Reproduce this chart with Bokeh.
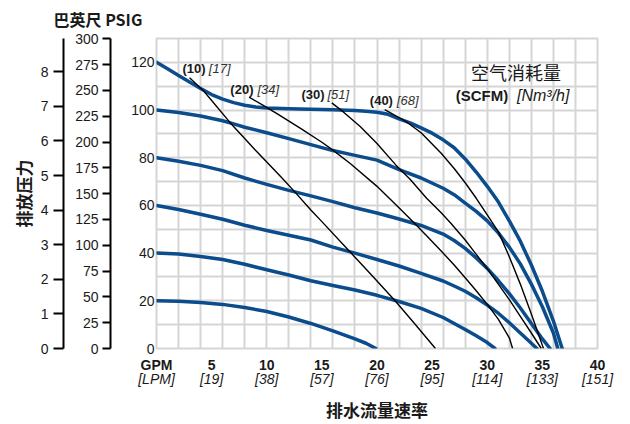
from bokeh.plotting import figure
from bokeh.models import Range1d, LinearAxis, FixedTicker
from bokeh.core.properties import value
from bokeh.embed import file_html
from bokeh.resources import INLINE

# ---------------- data ----------------
gpm_ticks = [0, 5, 10, 15, 20, 25, 30, 35, 40]
gpm_labels = ["GPM", "5", "10", "15", "20", "25", "30", "35", "40"]
lpm_labels = ["[LPM]", "[19]", "[38]", "[57]", "[76]", "[95]", "[114]", "[133]", "[151]"]
psi_ticks = [0, 20, 40, 60, 80, 100, 120]
ft_ticks = [0, 25, 50, 75, 100, 125, 150, 175, 200, 225, 250, 275, 300]
bar_ticks = [0, 1, 2, 3, 4, 5, 6, 7, 8]

# discharge-pressure curves (GPM, PSIG) for each air inlet pressure
p120_x = [0, 1, 2, 3, 4, 5, 6, 7, 8, 9, 10, 12, 14, 16, 18, 19, 20, 21, 22, 23, 24, 25, 26, 27, 28, 29, 30, 31, 32, 33, 34, 35, 36, 36.8]
p120_y = [120, 117.3, 114.5, 111.8, 109, 106.5, 104.6, 103.1, 102, 101.3, 100.9, 100.5, 100.3, 100.1, 99.8, 99.5, 99.1, 98.2, 96.3, 94.6, 92.5, 90.3, 87.5, 84.2, 79.5, 74, 68, 61.5, 53.5, 45, 35, 24, 11.5, 0]
p100_x = [0, 2, 4, 6, 7, 8, 10, 12, 14, 16, 18, 20, 22, 24, 26, 27, 28, 29, 30, 31, 32, 33, 34, 35, 36, 36.4]
p100_y = [100, 99, 97.5, 95.5, 94.2, 92.8, 90.5, 88, 85.5, 83, 81, 79, 75, 71.5, 67.2, 64.5, 61, 57.5, 53.5, 48.5, 42.5, 35.5, 27, 17.5, 6.5, 0]
p80_x = [0, 2, 4, 6, 8, 10, 12, 14, 16, 18, 20, 22, 24, 26, 27, 28, 29, 30, 31, 32, 33, 34, 35, 35.7]
p80_y = [80, 78.5, 76.8, 74.6, 71.5, 68.8, 66.3, 64, 61.6, 59, 56.8, 54.3, 51.6, 48, 45.3, 42, 38, 33.6, 28.5, 23, 17, 10.5, 4, 0]
p60_x = [0, 2, 4, 6, 8, 10, 12, 14, 16, 18, 20, 22, 24, 26, 27, 28, 29, 30, 31, 32, 33, 34, 34.5]
p60_y = [60, 58.3, 56.3, 54.2, 51.7, 49.5, 47.5, 45.5, 42.5, 40, 37.3, 34.6, 31.5, 28.3, 26.2, 24, 21.3, 18.2, 14.8, 10.8, 6.5, 2.2, 0]
p40_x = [0, 2, 4, 6, 8, 10, 12, 14, 16, 18, 20, 22, 24, 26, 27, 28, 29, 30, 30.7]
p40_y = [40, 39.6, 38.6, 37.3, 35.3, 33, 30.8, 28.4, 26.4, 24.5, 22.3, 19.7, 16.8, 13, 10.5, 8, 5.3, 2.5, 0]
p20_x = [0, 2, 4, 6, 8, 10, 12, 14, 16, 18, 19, 19.9]
p20_y = [20, 19.8, 19.3, 18.5, 17.2, 15.5, 13.2, 10.5, 7.4, 4, 2.2, 0]

# air-consumption curves (GPM, PSIG)
a10_x = [3.0, 4.3, 6.7, 9, 11.3, 12.5, 14, 15, 17.5, 19.5, 21.6, 23.4, 25.3]
a10_y = [113.5, 107.9, 94.6, 83, 71.9, 65.9, 58.1, 53.2, 40.8, 30.8, 20.2, 10.5, 0]
a20_x = [8.4, 9.8, 11, 13.1, 15, 16, 17.6, 20, 22.2, 23.4, 24.5, 25.8, 27, 28, 29, 30, 31, 32, 32.3]
a20_y = [105.4, 101.6, 98.3, 92.2, 86.5, 83.2, 77.5, 68, 58.1, 52.5, 47.3, 41, 35, 29.7, 24.2, 18.5, 12.3, 4.5, 0]
a30_x = [15.9, 17, 18.5, 20, 21.7, 23, 24.5, 25.8, 26.7, 28, 29, 30, 31, 32, 33, 34, 34.9]
a30_y = [103, 99, 93, 86, 77, 71, 63, 57, 52.5, 45.5, 39.5, 33.5, 27, 20.5, 13.5, 6.5, 0]
a40_x = [20.7, 22.6, 24, 25.8, 27, 28, 29, 30, 31, 32, 33, 34, 35.1]
a40_y = [100.2, 95.3, 90.5, 82, 75.5, 69.5, 63, 56, 49, 38.5, 27, 14.5, 0]

scfm_labels = ["(10)", "(20)", "(30)", "(40)"]
nm3h_labels = ["[17]", "[34]", "[51]", "[68]"]
scfm_label_x = [2.35, 6.7, 13.15, 19.35]
nm3h_label_x = [4.75, 9.15, 15.5, 21.8]
curve_label_y = [117.5, 108.6, 106.5, 104.1]

legend_title = "空气消耗量"
legend_unit_bold = "(SCFM)"
legend_unit_italic = "[Nm³/h]"
x_title = "排水流量速率"
y_title = "排放压力"
top_title = "巴英尺 PSIG"

# ---------------- styling ----------------
NUM = "Liberation Sans Narrow, Liberation Sans, sans-serif"
CJK = "Noto Sans CJK SC"
BLUE = "#0b4c8c"
GRID = "#d5d5d5"
INK = "#1a1a1a"

p = figure(width=630, height=424, x_range=Range1d(0, 40), y_range=Range1d(0, 130),
           output_backend="svg", toolbar_location=None,
           min_border_left=156, min_border_right=33, min_border_top=38, min_border_bottom=76)
p.extra_y_ranges = {"ft": Range1d(0, 130 * 2.31), "bar": Range1d(0, 130 / 14.5038)}

p.title.text = top_title
p.title.text_font = CJK
p.title.text_font_style = "bold"
p.title.text_font_size = "16px"
p.title.align = "left"
p.title.vertical_align = "top"
p.title.offset = -103
p.title.standoff = 12
p.title.text_color = INK

p.outline_line_color = GRID
p.outline_line_width = 2
p.background_fill_color = "white"
p.border_fill_color = "white"

p.xgrid.ticker = FixedTicker(ticks=list(range(0, 41, 2)))
p.ygrid.ticker = FixedTicker(ticks=list(range(0, 131, 10)))
for g in (p.xgrid[0], p.ygrid[0]):
    g.grid_line_color = GRID
    g.grid_line_width = 2

# bottom axes
xa = p.xaxis[0]
xa.ticker = FixedTicker(ticks=gpm_ticks)
xa.major_label_overrides = dict(zip(gpm_ticks, gpm_labels))
xa.major_label_text_font = NUM
xa.major_label_text_font_style = "bold"
xa.major_label_text_font_size = "14px"
xa.major_label_text_color = INK
xa.major_label_standoff = 8
xa.major_tick_out = 0
xa.minor_tick_out = 0
xa.major_tick_line_color = None
xa.minor_tick_line_color = None
xa.axis_line_color = None

xa2 = LinearAxis(ticker=FixedTicker(ticks=gpm_ticks),
                 major_label_overrides=dict(zip(gpm_ticks, lpm_labels)),
                 major_label_text_font=NUM, major_label_text_font_style="italic",
                 major_label_text_font_size="14px", major_label_text_color=INK,
                 major_label_standoff=-5, major_tick_out=0, minor_tick_out=0,
                 major_tick_line_color=None, minor_tick_line_color=None, axis_line_color=None,
                 axis_label=x_title, axis_label_text_font=CJK,
                 axis_label_text_font_style="bold", axis_label_text_font_size="17px",
                 axis_label_text_color=INK, axis_label_standoff=7)
p.add_layout(xa2, "below")

# left axes
ya = p.yaxis[0]
ya.ticker = FixedTicker(ticks=psi_ticks)
ya.major_label_text_font = NUM
ya.major_label_text_font_size = "14px"
ya.major_label_text_color = INK
ya.major_label_standoff = 2
ya.major_tick_out = 0
ya.minor_tick_out = 0
ya.major_tick_line_color = None
ya.minor_tick_line_color = None
ya.axis_line_color = None
ya.axis_label = " "
ya.axis_label_text_font_size = "10px"
ya.axis_label_standoff = 4

ft_axis = LinearAxis(y_range_name="ft", ticker=FixedTicker(ticks=ft_ticks),
                     major_label_text_font=NUM, major_label_text_font_size="14px",
                     major_label_text_color=INK, major_label_standoff=4,
                     axis_line_color="black", axis_line_width=2,
                     major_tick_line_color="black", major_tick_line_width=2,
                     major_tick_out=8, major_tick_in=0, minor_tick_out=0,
                     minor_tick_line_color=None,
                     axis_label=" ", axis_label_text_font_size="5px", axis_label_standoff=0)
p.add_layout(ft_axis, "left")

bar_axis = LinearAxis(y_range_name="bar", ticker=FixedTicker(ticks=bar_ticks),
                      major_label_text_font=NUM, major_label_text_font_size="14px",
                      major_label_text_color=INK, major_label_standoff=5,
                      axis_line_color="black", axis_line_width=2,
                      major_tick_line_color="black", major_tick_line_width=2,
                      major_tick_out=10, major_tick_in=0, minor_tick_out=0,
                      minor_tick_line_color=None,
                      axis_label=y_title, axis_label_text_font=CJK,
                      axis_label_text_font_style="bold", axis_label_text_font_size="17px",
                      axis_label_text_color=INK, axis_label_standoff=2)
p.add_layout(bar_axis, "left")

# curves
for xs, ys in [(p120_x, p120_y), (p100_x, p100_y), (p80_x, p80_y),
               (p60_x, p60_y), (p40_x, p40_y), (p20_x, p20_y)]:
    p.line(xs, ys, line_color=BLUE, line_width=3.5, line_join="round", line_cap="round")
for xs, ys in [(a10_x, a10_y), (a20_x, a20_y), (a30_x, a30_y), (a40_x, a40_y)]:
    p.line(xs, ys, line_color="black", line_width=1.4, line_join="round")

# curve labels
p.text(x=scfm_label_x, y=curve_label_y, text=scfm_labels, text_font=value(NUM),
       text_font_style="bold", text_font_size="13px", text_color=INK,
       text_align="left", text_baseline="middle")
p.text(x=nm3h_label_x, y=curve_label_y, text=nm3h_labels, text_font=value(NUM),
       text_font_style="italic", text_font_size="13px", text_color="#333333",
       text_align="left", text_baseline="middle")

# legend-title texts
p.text(x=[32.6], y=[115.8], text=[legend_title], text_font=value(CJK),
       text_font_size="18px", text_color=INK, text_align="center", text_baseline="middle")
p.text(x=[31.9], y=[106.1], text=[legend_unit_bold], text_font=value(NUM),
       text_font_style="bold", text_font_size="15px", text_color=INK,
       text_align="right", text_baseline="middle")
p.text(x=[32.7], y=[106.1], text=[legend_unit_italic], text_font=value(NUM),
       text_font_style="italic", text_font_size="16px", text_color=INK,
       text_align="left", text_baseline="middle")

open("out.html", "w").write(file_html(p, INLINE))
